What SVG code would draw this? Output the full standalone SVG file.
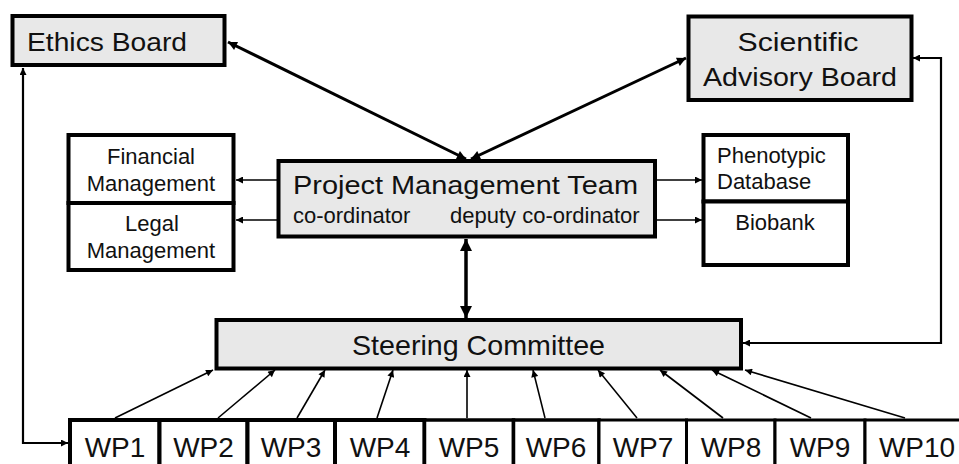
<svg xmlns="http://www.w3.org/2000/svg" width="959" height="464" viewBox="0 0 959 464">
<defs>
<style>
.box{fill:#ffffff;stroke:#000;stroke-width:4}
.gbox{fill:#e8e8e8;stroke:#000;stroke-width:4}
.t{font-family:"Liberation Sans",Arial,sans-serif;fill:#111}
.c{text-anchor:middle}
.thin{fill:none;stroke:#000;stroke-width:1.6}
.mid{fill:none;stroke:#000;stroke-width:2.2}
.thick{fill:none;stroke:#000;stroke-width:3}
</style>
<marker id="as" viewBox="0 0 10 10" refX="10" refY="5" markerWidth="9" markerHeight="7" markerUnits="userSpaceOnUse" orient="auto-start-reverse"><path d="M0,0 L10,5 L0,10 z" fill="#000"/></marker>
<marker id="am" viewBox="0 0 10 10" refX="10" refY="5" markerWidth="11" markerHeight="9" markerUnits="userSpaceOnUse" orient="auto-start-reverse"><path d="M0,0 L10,5 L0,10 z" fill="#000"/></marker>
<marker id="al" viewBox="0 0 10 10" refX="10" refY="5" markerWidth="15" markerHeight="12" markerUnits="userSpaceOnUse" orient="auto-start-reverse"><path d="M0,0 L10,5 L0,10 z" fill="#000"/></marker>
</defs>

<g id="connectors">
<path class="thick" d="M228,42 L466,159" marker-start="url(#am)" marker-end="url(#am)"/>
<path class="thick" d="M471,159 L686,58" marker-start="url(#am)" marker-end="url(#am)"/>
<path class="thick" d="M466,239 L466,318" marker-start="url(#al)" marker-end="url(#al)" style="stroke-width:3.5"/>
<path class="mid" d="M23,68 L23,443 L68,443" marker-start="url(#as)" marker-end="url(#as)"/>
<path class="mid" d="M913,58 L941,58 L941,343 L743,343" marker-start="url(#as)" marker-end="url(#as)"/>
<path class="thin" d="M277,180 L236,180" marker-end="url(#as)"/>
<path class="thin" d="M277,220 L236,220" marker-end="url(#as)"/>
<path class="thin" d="M657,180 L702,180" marker-end="url(#as)"/>
<path class="thin" d="M657,220 L702,220" marker-end="url(#as)"/>
<path class="thin" d="M115,418 L213,370" marker-end="url(#as)"/>
<path class="thin" d="M218,418 L275,370" marker-end="url(#as)"/>
<path class="thin" d="M297,418 L325,370" marker-end="url(#as)"/>
<path class="thin" d="M377,418 L393,370" marker-end="url(#as)"/>
<path class="thin" d="M467,418 L467,370" marker-end="url(#as)"/>
<path class="thin" d="M545,418 L533,370" marker-end="url(#as)"/>
<path class="thin" d="M637,418 L598,370" marker-end="url(#as)"/>
<path class="thin" d="M723,418 L660,370" marker-end="url(#as)"/>
<path class="thin" d="M811,418 L712,370" marker-end="url(#as)"/>
<path class="thin" d="M905,418 L745,370" marker-end="url(#as)"/>
</g>

<g id="ethics-board">
<rect class="gbox" x="12.5" y="16" width="212" height="49"/>
<text class="t" x="27" y="50.5" font-size="26" textLength="160" lengthAdjust="spacingAndGlyphs">Ethics Board</text>
</g>

<g id="scientific-advisory-board">
<rect class="gbox" x="688.5" y="16.5" width="223" height="83.5"/>
<text class="t c" x="798" y="51" font-size="26" textLength="121" lengthAdjust="spacingAndGlyphs">Scientific</text>
<text class="t c" x="800" y="86" font-size="26" textLength="194" lengthAdjust="spacingAndGlyphs">Advisory Board</text>
</g>

<g id="financial-management">
<rect class="box" x="68.5" y="135" width="165" height="68"/>
<text class="t c" x="151" y="164" font-size="22">Financial</text>
<text class="t c" x="151" y="191" font-size="22">Management</text>
</g>

<g id="legal-management">
<rect class="box" x="68.5" y="203" width="165" height="67"/>
<text class="t c" x="152" y="231" font-size="22">Legal</text>
<text class="t c" x="151" y="258" font-size="22">Management</text>
</g>

<g id="project-management-team">
<rect class="gbox" x="278.5" y="161" width="376.5" height="75.5"/>
<text class="t" x="293" y="194" font-size="26" textLength="345" lengthAdjust="spacingAndGlyphs">Project Management Team</text>
<text class="t" x="293" y="223" font-size="22">co-ordinator</text>
<text class="t" x="450" y="223" font-size="22">deputy co-ordinator</text>
</g>

<g id="phenotypic-database">
<rect class="box" x="703.5" y="135" width="144.5" height="66.5"/>
<text class="t" x="717" y="163" font-size="22">Phenotypic</text>
<text class="t" x="717" y="189" font-size="22">Database</text>
</g>

<g id="biobank">
<rect class="box" x="703.5" y="201.5" width="144.5" height="63.5"/>
<text class="t c" x="775" y="230" font-size="22">Biobank</text>
</g>

<g id="steering-committee">
<rect class="gbox" x="216.5" y="320" width="524.5" height="48.5"/>
<text class="t c" x="478.5" y="355" font-size="28" textLength="253" lengthAdjust="spacingAndGlyphs">Steering Committee</text>
</g>

<g id="wp1"><rect class="box" x="70" y="420" width="89.5" height="60"/><text class="t c" x="115" y="457" font-size="28">WP1</text></g>
<g id="wp2"><rect class="box" x="159.5" y="420" width="88" height="60"/><text class="t c" x="203.5" y="457" font-size="28">WP2</text></g>
<g id="wp3"><rect class="box" x="247.5" y="420" width="87.5" height="60"/><text class="t c" x="291" y="457" font-size="28">WP3</text></g>
<g id="wp4"><rect class="box" x="335" y="420" width="89.5" height="60"/><text class="t c" x="380" y="457" font-size="28">WP4</text></g>
<g id="wp5"><rect class="box" x="424.5" y="420" width="89" height="60" style="stroke-width:3.5"/><text class="t c" x="469" y="457" font-size="28">WP5</text></g>
<g id="wp6"><rect class="box" x="513.5" y="420" width="85.5" height="60" style="stroke-width:3.5"/><text class="t c" x="556" y="457" font-size="28">WP6</text></g>
<g id="wp7"><rect class="box" x="599" y="420" width="87.5" height="60" style="stroke-width:3"/><text class="t c" x="643" y="457" font-size="28">WP7</text></g>
<g id="wp8"><rect class="box" x="686.5" y="420" width="88.5" height="60" style="stroke-width:3"/><text class="t c" x="731" y="457" font-size="28">WP8</text></g>
<g id="wp9"><rect class="box" x="775" y="420" width="90" height="60" style="stroke-width:3"/><text class="t c" x="820" y="457" font-size="28">WP9</text></g>
<g id="wp10"><rect class="box" x="865" y="420" width="100" height="60" style="stroke-width:3"/><text class="t c" x="917" y="457" font-size="28">WP10</text></g>
</svg>
